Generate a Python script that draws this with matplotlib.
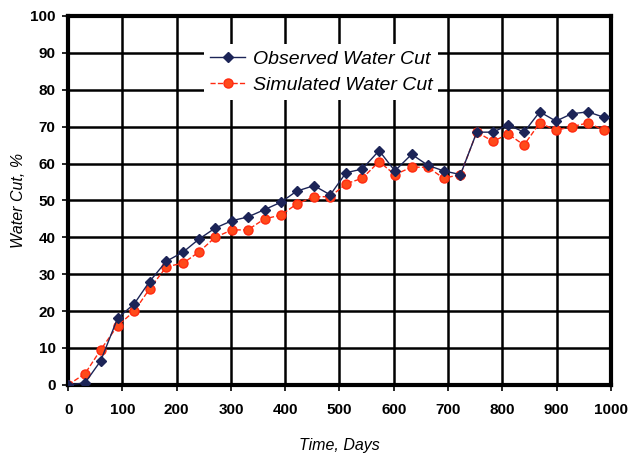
import matplotlib
matplotlib.use("Agg")
import matplotlib.pyplot as plt
from matplotlib.ticker import MultipleLocator

# monthly water cut, observed vs simulated
days = [0, 31, 60, 91, 122, 150, 181, 212, 241, 271, 302, 331, 362, 392, 421, 453, 483,
        512, 542, 573, 602, 633, 663, 692, 723, 753, 783, 811, 840, 869, 899, 928, 958, 988]
observed = [0, 0.5, 6.5, 18, 22, 28, 33.5, 36, 39.5, 42.5, 44.5, 45.5, 47.5, 49.5, 52.5, 54, 51.5,
            57.5, 58.5, 63.5, 58, 62.5, 59.5, 58, 57, 68.5, 68.5, 70.5, 68.5, 74, 71.5, 73.5, 74, 72.5]
simulated = [0, 3, 9.5, 16, 20, 26, 32, 33, 36, 40, 42, 42, 45, 46, 49, 51, 51,
             54.5, 56, 60.5, 57, 59, 59, 56, 57, 68.5, 66, 68, 65, 71, 69, 70, 71, 69]

plt.rcParams['font.family'] = ['Liberation Sans', 'DejaVu Sans']

fig = plt.figure(figsize=(6.31, 4.57), dpi=100)
ax = fig.add_axes([0.108, 0.158, 0.860, 0.807])

ax.plot(days, observed, color='#1c2457', lw=1.0, marker='D', ms=5,
        mfc='#1c2457', mec='#1c2457', label='Observed Water Cut', zorder=4)
ax.plot(days, simulated, color='#ff2a10', lw=1.0, ls='--', marker='o', ms=6.5,
        mfc='#ff4a1a', mec='#ff2a10', label='Simulated Water Cut', zorder=3)

ax.set_xlim(0, 1000)
ax.set_ylim(0, 100)
ax.xaxis.set_major_locator(MultipleLocator(100))
ax.yaxis.set_major_locator(MultipleLocator(10))
ax.grid(True, color='black', lw=1.8)
ax.set_axisbelow(True)
for s in ax.spines.values():
    s.set_linewidth(3)
ax.tick_params(axis='y', length=4, width=1.2, labelsize=11, pad=5)
ax.tick_params(axis='x', length=4, width=1.2, labelsize=11, pad=9)
for lbl in ax.get_xticklabels() + ax.get_yticklabels():
    lbl.set_fontweight('bold')

ax.set_xlabel('Time, Days', style='italic', fontsize=11.5, labelpad=15)
ax.set_ylabel('Water Cut, %', style='italic', fontsize=11.5)
ax.yaxis.set_label_coords(-0.077, 0.5)

leg = ax.legend(loc='upper left', bbox_to_anchor=(0.233, 0.95), frameon=True,
                fancybox=False, edgecolor='none', facecolor='white', framealpha=1,
                handlelength=1.8, handletextpad=0.4, borderpad=0.3, labelspacing=0.45,
                prop={'style': 'italic', 'size': 14})

fig.savefig('out.png', dpi=100)
